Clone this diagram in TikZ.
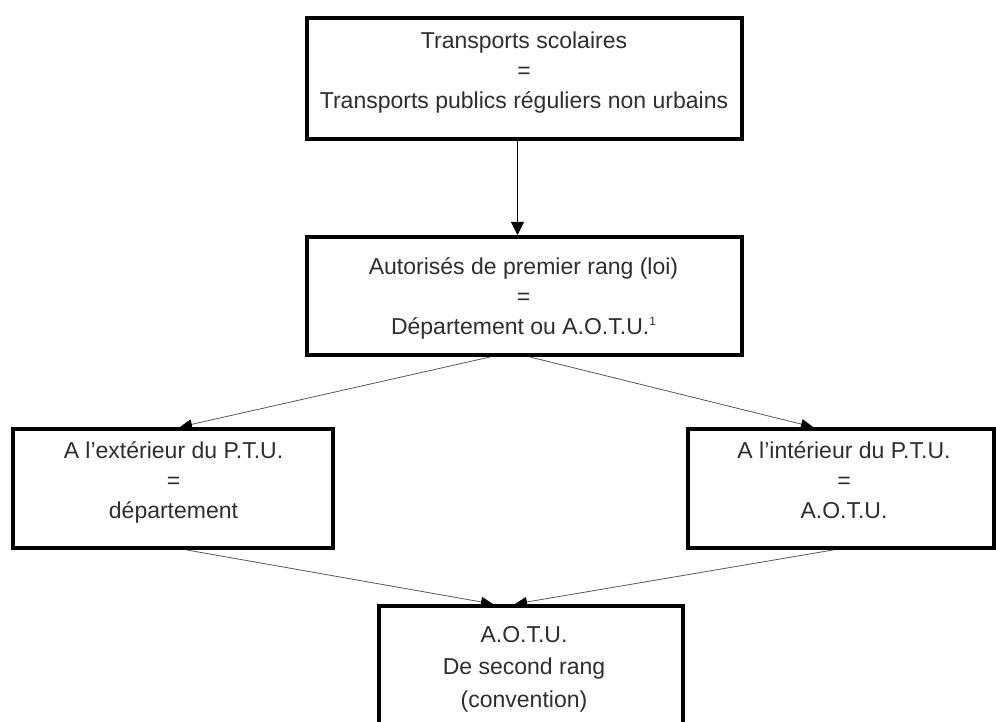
\documentclass[tikz,border=0pt]{standalone}
\usepackage{fontspec}
\setmainfont{Liberation Sans}
\usetikzlibrary{arrows.meta}
\begin{document}
\begin{tikzpicture}[x=1pt,y=-1pt,
  box/.style={draw=black, line width=4pt, inner sep=0pt},
  txt/.style={align=center, font=\fontsize{23}{30}\selectfont, text=black!82, inner sep=0pt},
  txtb/.style={align=center, font=\fontsize{23}{32.5}\selectfont, text=black!82, inner sep=0pt},
  mainarrow/.style={draw=black, line width=0.9pt, -{Triangle[length=13pt,width=13pt]}},
  thinarrow/.style={draw=black!65, line width=0.8pt, -{Triangle[length=12pt,width=10pt,color=black]}}]
\useasboundingbox (0,0) rectangle (996,722);
\clip (0,0) rectangle (996,722);
\fill[white] (0,0) rectangle (996,722);

% boxes
\node[box, minimum width=435pt, minimum height=121pt] (b1) at (524.5,78.5) {};
\node[box, minimum width=435pt, minimum height=118pt] (b2) at (524.5,296) {};
\node[box, minimum width=320pt, minimum height=119pt] (bl) at (173,488.5) {};
\node[box, minimum width=306pt, minimum height=119pt] (br) at (841,488.5) {};
\node[box, minimum width=304pt, minimum height=200pt] (bb) at (531,706) {};

% texts
\node[txt] (t1) at (524,73) {Transports scolaires\\=\\Transports publics réguliers non urbains};
\node[txt] (t2) at (523.5,298) {Autorisés de premier rang (loi)\\=\\Département ou A.O.T.U.\raisebox{9pt}{\fontsize{12}{12}\selectfont 1}};
\node[txt] (tl) at (173.5,482) {A l’extérieur du P.T.U.\\=\\département};
\node[txt] (tr) at (844,480) {A l’intérieur du P.T.U.\\=\\A.O.T.U.};
\node[txtb] (tb) at (524,669) {A.O.T.U.\\De second rang\\(convention)};

% connectors
\draw[mainarrow] ([xshift=-7pt]b1.south) -- ([xshift=-7pt]b2.north);
\draw[thinarrow] ([xshift=-34.5pt]b2.south) -- ([xshift=7pt]bl.north);
\draw[thinarrow] ([xshift=5.5pt]b2.south) -- ([xshift=-28pt]br.north);
\draw[thinarrow] ([xshift=14pt]bl.south) -- ([xshift=-38pt]bb.north);
\draw[thinarrow] ([xshift=-8pt]br.south) -- ([xshift=-16pt]bb.north);
\end{tikzpicture}
\end{document}
